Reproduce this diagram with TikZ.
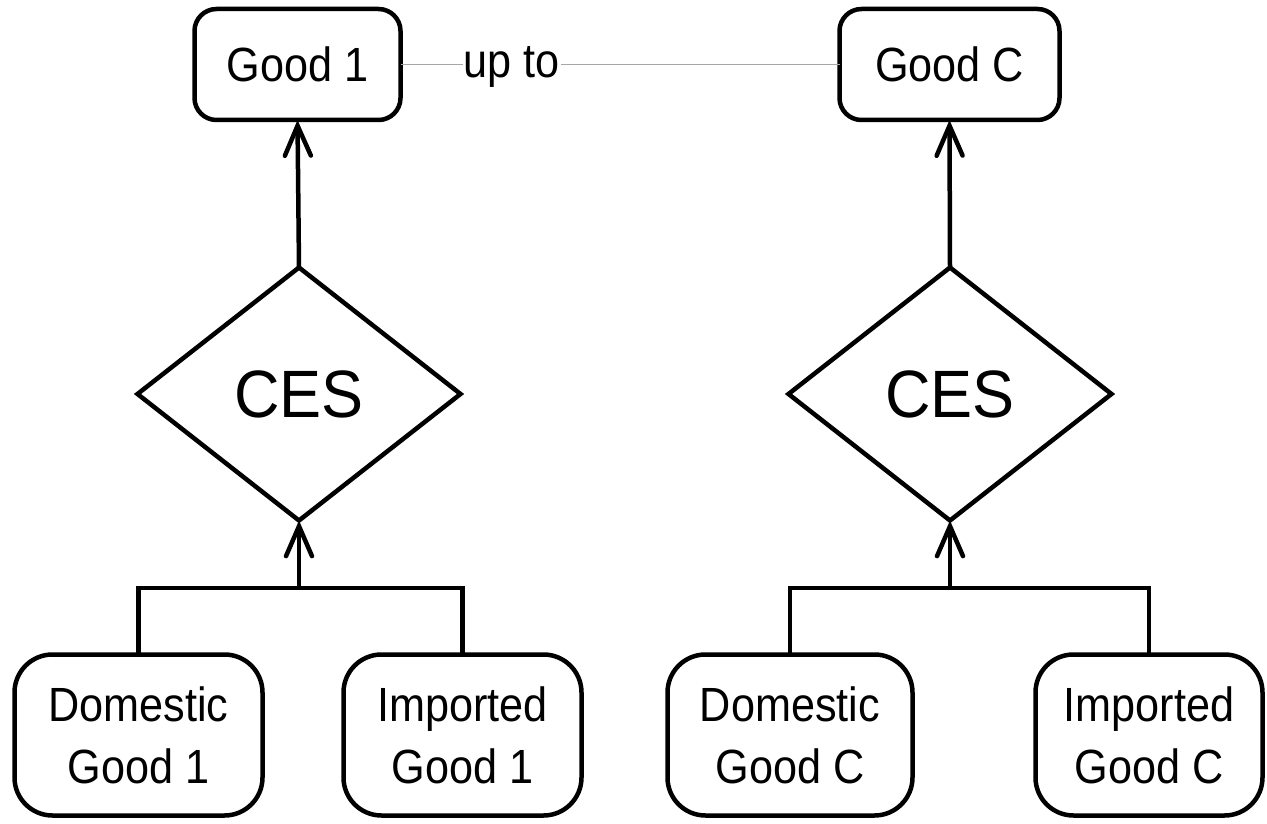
\documentclass[tikz,border=0pt]{standalone}
\usepackage{fontspec}
\setmainfont{Liberation Sans}
\newfontfamily\lblfont{Liberation Sans}[FakeStretch=0.9]
\newfontfamily\cesfont{Liberation Sans}[FakeStretch=0.94]
\usetikzlibrary{shapes.geometric,arrows.meta}
\begin{document}
\begin{tikzpicture}[x=1pt,y=-1pt,
  every node/.style={font=\lblfont\fontsize{48}{62}\selectfont, inner sep=0pt, outer sep=0pt},
  topbox/.style={draw, line width=4.5pt, rounded corners=22pt, minimum width=206pt, minimum height=111pt},
  leafbox/.style={draw, line width=4.5pt, rounded corners=38pt, minimum height=161pt, align=center},
  cesnode/.style={draw, diamond, line width=4.5pt, minimum width=323pt, minimum height=253pt, font=\cesfont\fontsize{67}{80}\selectfont},
  link/.style={line width=4.5pt},
  arrowlink/.style={line width=4.5pt, -{Straight Barb[length=30pt,width=26pt,line cap=round]}},
  uplink/.style={draw=gray!70, line width=1.3pt}
]
\useasboundingbox (0,0) rectangle (1267,824);
\fill[white] (0,0) rectangle (1267,824);

% top goods
\node[topbox] (g1) at (297.5,64.5) {Good 1};
\node[topbox, minimum width=220pt] (gc) at (949.5,64.5) {Good C};

% CES diamonds
\node[cesnode] (ces1) at (299,394) {CES};
\node[cesnode] (cesc) at (950,394) {CES};

% leaf boxes
\node[leafbox, minimum width=248pt] (d1) at (138.5,735) {Domestic\\Good 1};
\node[leafbox, minimum width=238pt] (i1) at (462.5,735) {Imported\\Good 1};
\node[leafbox, minimum width=245pt] (dc) at (790,735) {Domestic\\Good C};
\node[leafbox, minimum width=227pt] (ic) at (1149,735) {Imported\\Good C};

% junctions
\coordinate (j1) at (299,588);
\coordinate (jc) at (950,588);

% up to link
\draw[uplink] (g1.east) -- (gc.west);
\path (g1.east) -- node[pos=0.253, anchor=base, yshift=-13pt, fill=white, inner sep=1pt] (upto) {up to} (gc.west);

% arrows up
\draw[arrowlink] (ces1.north) -- (g1.south);
\draw[arrowlink] (cesc.north) -- (gc.south);
\draw[arrowlink] (j1) -- (ces1.south);
\draw[arrowlink] (jc) -- (cesc.south);

% tree branches
\draw[link] (d1.north) |- (j1) -| (i1.north);
\draw[link] (dc.north) |- (jc) -| (ic.north);
\end{tikzpicture}
\end{document}
